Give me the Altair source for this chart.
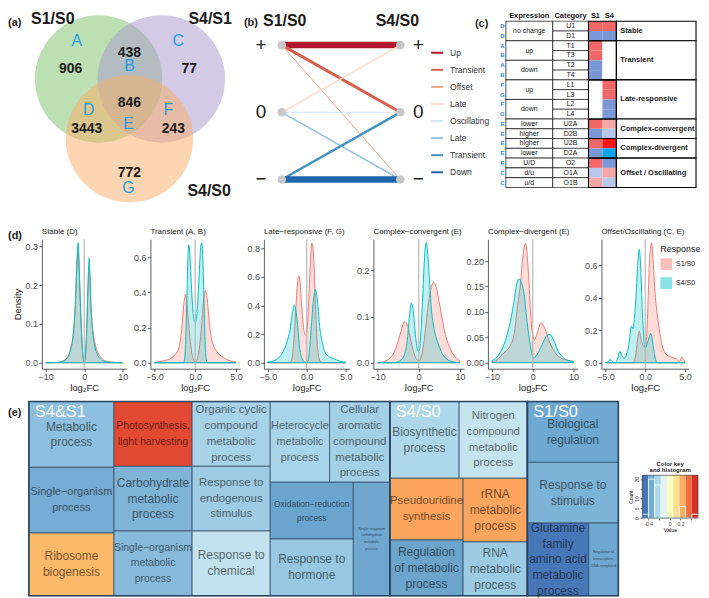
import altair as alt
import pandas as pd

FONT = "Liberation Sans"
INK = "#1a1a1a"

panel_tags = ["(a)", "(b)", "(c)", "(d)", "(e)"]

# ======================= (a) Venn diagram =======================
venn_sets = ["S1/S0", "S4/S1", "S4/S0"]
venn_fill = ["#79c169", "#a797cd", "#f9ad65"]
venn_cx = [91, 154, 122]
venn_cy = [70, 70, 130]
venn_label_x = [45, 203, 202]
venn_label_y = [10, 10, 183]
region_counts = ["906", "438", "77", "846", "3443", "243", "772"]
region_count_x = [63, 122, 182, 122, 79, 166, 122]
region_count_y = [60, 44, 60, 94, 120, 120, 164]
region_letters = ["A", "B", "C", "D", "E", "F", "G"]
region_letter_x = [69, 122, 171, 81, 121, 161, 121]
region_letter_y = [32, 57, 32, 101, 115, 101, 180]

# ======================= (b) response patterns =======================
edge_names = ["Up", "Transient", "Offset", "Late", "Oscillating", "Late", "Transient", "Down"]
edge_from = [1, 1, 1, 0, 0, 0, -1, -1]
edge_to = [1, 0, -1, 1, 0, -1, 0, -1]
edge_colors = ["#b2182b", "#d6604d", "#f4a582", "#fddbc7", "#d1e5f0", "#92c5de", "#4393c3", "#2166ac"]
edge_widths = [6.5, 3, 1, 1.5, 1, 1.5, 2.5, 6.5]
level_symbols = ["+", "0", "\u2212"]
level_values = [1, 0, -1]
legend_y = [0.886, 0.632, 0.378, 0.124, -0.130, -0.384, -0.638, -0.892]

# ======================= (c) category table =======================
tbl_letters = ["D", "D", "A", "B", "A", "B", "F", "G", "F", "G", "E", "E", "E", "E", "E", "C", "C"]
tbl_categories = ["U1", "D1", "T1", "T3", "T2", "T4", "L1", "L3", "L2", "L4",
                  "U2A", "D2B", "U2B", "D2A", "O2", "O1A", "O1B"]
R, B, LR, LB, BR, BB, WH = "#f26767", "#7b98d6", "#f7a6a6", "#b7c8ea", "#ff1414", "#0aa5ec", "#ffffff"
tbl_s1 = [R, B, R, R, B, B, WH, WH, WH, WH, R, B, R, B, R, LB, LR]
tbl_s4 = [R, B, WH, WH, WH, WH, R, R, B, B, LR, LB, BR, BB, B, LR, LB]
expr_labels = ["no change", "up", "down", "up", "down", "lower", "higher", "higher", "lower", "U/D", "d/u", "u/d"]
expr_start = [0, 2, 4, 6, 8, 10, 11, 12, 13, 14, 15, 16]
expr_end = [2, 4, 6, 8, 10, 11, 12, 13, 14, 15, 16, 17]
grp_labels = ["Stable", "Transient", "Late-responsive", "Complex-convergent", "Complex-divergent", "Offset / Oscillating"]
grp_start = [0, 2, 6, 10, 12, 14]
grp_end = [2, 6, 10, 12, 14, 17]
tbl_headers = ["Expression", "Category", "S1", "S4"]
tbl_header_x = [29.5, 71, 96, 110]

# ======================= (d) density curves =======================
dens_titles = ["Stable (D)", "Transient (A, B)", "Late\u2212responsive (F, G)",
               "Complex\u2212convergent (E)", "Complex\u2212divergent (E)", "Offset/Oscillating (C, E)"]
dens_xlim = [10, 5, 5, 10, 10, 5]
dens_xticks = [[-10, -5, 0, 5, 10], [-5, -2.5, 0, 2.5, 5], [-5, -2.5, 0, 2.5, 5],
               [-10, -5, 0, 5, 10], [-10, -5, 0, 5, 10], [-5, -2.5, 0, 2.5, 5]]
dens_xfmt = ["d", ".1f", ".1f", "d", "d", ".1f"]
dens_yticks = [[0, 0.1, 0.2, 0.3], [0, 0.2, 0.4, 0.6], [0, 0.2, 0.4, 0.6, 0.8],
               [0, 0.1, 0.2], [0, 0.05, 0.1, 0.15, 0.2], [0, 0.2, 0.4, 0.6]]
dens_yfmt = [".1f", ".1f", ".1f", ".1f", ".2f", ".1f"]
dens_ymin = [-0.0154, -0.034, -0.042, -0.013, -0.012, -0.037]
dens_ymax = [0.318, 0.702, 0.863, 0.267, 0.243, 0.762]

p1_x = [-10, -7, -5.5, -4.5, -3.5, -2.8, -2.3, -1.9, -1.56, -1.3, -1.0, -0.7, -0.4, -0.15, 0,
        0.15, 0.4, 0.7, 0.95, 1.15, 1.3, 1.5, 1.8, 2.2, 2.8, 3.5, 4.5, 5.5, 7, 10]
p1_s1 = [0, 0.001, 0.005, 0.012, 0.038, 0.078, 0.15, 0.245, 0.29, 0.24, 0.155, 0.08, 0.026, 0.005, 0,
         0.006, 0.03, 0.095, 0.175, 0.228, 0.243, 0.215, 0.14, 0.09, 0.05, 0.028, 0.012, 0.005, 0.002, 0]
p1_s4 = [0, 0.001, 0.004, 0.01, 0.035, 0.075, 0.15, 0.26, 0.309, 0.25, 0.16, 0.08, 0.025, 0.004, 0,
         0.005, 0.03, 0.1, 0.19, 0.25, 0.27, 0.23, 0.14, 0.08, 0.04, 0.02, 0.007, 0.003, 0.001, 0]

p2_s1_x = [-5, -4, -3, -2.5, -2, -1.7, -1.5, -1.3, -1.2, -1.05, -0.85, -0.6, -0.35, -0.15, 0,
           0.15, 0.35, 0.6, 0.85, 1.05, 1.25, 1.4, 1.6, 1.8, 2.1, 2.5, 3, 3.5, 4, 4.5, 5]
p2_s1_y = [0.002, 0.01, 0.025, 0.045, 0.085, 0.17, 0.28, 0.37, 0.39, 0.36, 0.25, 0.12, 0.04, 0.01, 0.003,
           0.01, 0.04, 0.12, 0.25, 0.36, 0.41, 0.39, 0.3, 0.2, 0.12, 0.075, 0.045, 0.028, 0.016, 0.008, 0.004]
p2_s4_x = [-5, -1.45, -1.3, -1.15, -1.0, -0.9, -0.8, -0.7, -0.55, -0.4, -0.25, -0.1, 0, 0.1,
           0.25, 0.4, 0.55, 0.7, 0.8, 0.9, 1.0, 1.1, 1.2, 1.3, 1.4, 1.5, 5]
p2_s4_y = [0, 0, 0.02, 0.15, 0.4, 0.58, 0.67, 0.65, 0.52, 0.38, 0.28, 0.235, 0.23, 0.24,
           0.3, 0.42, 0.56, 0.67, 0.68, 0.63, 0.5, 0.32, 0.15, 0.05, 0.01, 0, 0]

p3_s1_x = [-5, -2.3, -2.0, -1.75, -1.5, -1.3, -1.1, -1.0, -0.85, -0.65, -0.45, -0.25, -0.1,
           0.05, 0.25, 0.45, 0.65, 0.8, 1.0, 1.2, 1.4, 1.6, 1.85, 2.1, 5]
p3_s1_y = [0, 0, 0.01, 0.08, 0.28, 0.47, 0.59, 0.606, 0.56, 0.4, 0.27, 0.2, 0.195,
           0.23, 0.42, 0.68, 0.835, 0.81, 0.6, 0.3, 0.1, 0.03, 0.005, 0, 0]
p3_s4_x = [-5, -4, -3.5, -3, -2.5, -2.15, -1.85, -1.62, -1.4, -1.15, -0.9, -0.6, -0.3, 0,
           0.2, 0.4, 0.6, 0.85, 1.1, 1.35, 1.65, 2.0, 2.3, 2.8, 3.4, 4.2, 5]
p3_s4_y = [0.005, 0.02, 0.04, 0.08, 0.15, 0.23, 0.34, 0.40, 0.37, 0.25, 0.1, 0.03, 0.005, 0,
           0.02, 0.12, 0.26, 0.43, 0.514, 0.45, 0.26, 0.14, 0.08, 0.045, 0.03, 0.012, 0.004]

p4_s1_x = [-10, -9, -8, -7, -6, -5.2, -4.5, -3.8, -3.37, -2.8, -2.2, -1.5, -0.8, 0,
           0.6, 1.2, 1.8, 2.4, 3, 3.6, 4.2, 5, 5.8, 6.7, 7.5, 8.3, 9.1, 10]
p4_s1_y = [0, 0.001, 0.004, 0.01, 0.022, 0.04, 0.062, 0.083, 0.089, 0.082, 0.06, 0.032, 0.012, 0.004,
           0.012, 0.04, 0.085, 0.13, 0.162, 0.174, 0.165, 0.13, 0.09, 0.053, 0.033, 0.019, 0.01, 0.004]
p4_s4_x = [-10, -6, -5, -4.3, -3.5, -3, -2.6, -2.2, -1.8, -1.4, -1.0, -0.6, -0.2, 0.1, 0.5,
           0.9, 1.3, 1.6, 1.85, 2.2, 2.6, 3.05, 3.5, 3.9, 4.5, 5.1, 5.8, 6.7, 7.8, 10]
p4_s4_y = [0, 0, 0.002, 0.006, 0.017, 0.035, 0.065, 0.105, 0.129, 0.118, 0.08, 0.045, 0.025, 0.026, 0.06,
           0.13, 0.21, 0.25, 0.26, 0.235, 0.18, 0.118, 0.085, 0.066, 0.047, 0.032, 0.018, 0.009, 0.003, 0]

p5_s1_x = [-10, -9.1, -8.3, -7.1, -5.85, -4.6, -3.8, -3.0, -2.4, -1.79, -1.4, -1.0, -0.33,
           0.4, 1.2, 2.0, 3.1, 3.9, 5.1, 6.3, 8, 9.6, 10]
p5_s1_y = [0.001, 0.003, 0.009, 0.019, 0.029, 0.055, 0.107, 0.156, 0.21, 0.235, 0.215, 0.17, 0.075,
           0.045, 0.061, 0.078, 0.065, 0.045, 0.025, 0.012, 0.006, 0.003, 0.002]
p5_s4_x = [-10, -9.5, -8.3, -7.1, -5.85, -4.6, -4.0, -3.41, -2.8, -2.2, -1.4, -0.6, 0.24,
           1.06, 2.3, 3.5, 4.15, 5.1, 6.3, 7.6, 9.2, 10]
p5_s4_y = [0.004, 0.006, 0.016, 0.035, 0.068, 0.12, 0.152, 0.165, 0.158, 0.14, 0.081, 0.035, 0.009,
           0.016, 0.035, 0.054, 0.056, 0.045, 0.022, 0.009, 0.003, 0.002]

p6_s1_x = [-5, -1.6, -1.4, -1.15, -0.95, -0.75, -0.55, -0.3, 0, 0.2, 0.4, 0.6, 0.8,
           1.0, 1.25, 1.5, 1.75, 2.1, 2.5, 3.0, 3.5, 4.0, 4.3, 4.6, 4.8, 5]
p6_s1_y = [0, 0, 0.01, 0.06, 0.15, 0.195, 0.15, 0.11, 0.1, 0.18, 0.45, 0.68, 0.74,
           0.62, 0.42, 0.3, 0.21, 0.11, 0.06, 0.04, 0.032, 0.02, 0.008, 0.035, 0.02, 0]
p6_s4_x = [-5, -4.7, -4.4, -4.1, -3.7, -3.4, -3.2, -2.95, -2.6, -2.3, -2.0, -1.75, -1.55, -1.35,
           -1.15, -0.95, -0.75, -0.6, -0.35, -0.15, 0, 0.2, 0.45, 0.7, 0.9, 1.1, 1.3, 1.5, 5]
p6_s4_y = [0, 0.005, 0.02, 0.005, 0, 0.04, 0.07, 0.045, 0.027, 0.06, 0.13, 0.225, 0.21, 0.28,
           0.42, 0.6, 0.70, 0.62, 0.3, 0.14, 0.09, 0.11, 0.15, 0.18, 0.14, 0.07, 0.02, 0, 0]

dens_series = [
    ((p1_x, p1_s1), (p1_x, p1_s4)),
    ((p2_s1_x, p2_s1_y), (p2_s4_x, p2_s4_y)),
    ((p3_s1_x, p3_s1_y), (p3_s4_x, p3_s4_y)),
    ((p4_s1_x, p4_s1_y), (p4_s4_x, p4_s4_y)),
    ((p5_s1_x, p5_s1_y), (p5_s4_x, p5_s4_y)),
    ((p6_s1_x, p6_s1_y), (p6_s4_x, p6_s4_y)),
]
responses = ["S1/S0", "S4/S0"]
response_colors = ["#F8766D", "#00BFC4"]

# ======================= (e) treemap =======================
tm_labels = ["Metabolic\nprocess", "Single\u2212organism\nprocess", "Ribosome\nbiogenesis",
             "Photosynthesis,\nlight harvesting", "Carbohydrate\nmetabolic\nprocess",
             "Single\u2212organism\nmetabolic\nprocess", "Organic cyclic\ncompound\nmetabolic\nprocess",
             "Response to\nendogenous\nstimulus", "Response to\nchemical", "Heterocycle\nmetabolic\nprocess",
             "Cellular\naromatic\ncompound\nmetabolic\nprocess", "Oxidation\u2212reduction\nprocess",
             "Response to\nhormone", "Single\u2212organism\ncarbohydrate\nmetabolic\nprocess",
             "Biosynthetic\nprocess", "Nitrogen\ncompound\nmetabolic\nprocess", "Pseudouridine\nsynthesis",
             "rRNA\nmetabolic\nprocess", "Regulation\nof metabolic\nprocess", "RNA\nmetabolic\nprocess",
             "Biological\nregulation", "Response to\nstimulus",
             "Glutamine\nfamily\namino acid\nmetabolic\nprocess", "Regulation of\ntranscription,\nDNA\u2212templated"]
tm_x0 = [0, 0, 0, 86, 86, 86, 165, 165, 165, 244, 304, 244, 244, 328,
         365, 435, 365, 439, 365, 439, 504, 504, 504, 566]
tm_x1 = [86, 86, 86, 165, 165, 165, 244, 244, 244, 304, 365, 328, 328, 365,
         435, 504, 439, 504, 439, 504, 596, 596, 566, 596]
tm_y0 = [0, 66, 132, 0, 65, 130, 0, 65, 130, 0, 0, 81, 138, 81,
         0, 0, 77, 77, 139, 141, 0, 61, 122, 122]
tm_y1 = [66, 132, 195, 65, 130, 195, 65, 130, 195, 81, 81, 138, 195, 195,
         77, 77, 139, 141, 195, 195, 61, 122, 195, 195]
tm_colors = ["#8dc0de", "#76acd3", "#fdb96a", "#e34a33", "#7fb4d7", "#88bbdb", "#a8d2e8", "#9fcbe4",
             "#c3e2ef", "#a9d4e9", "#a3d0e6", "#6ba4cd", "#97c7e1", "#6fa7cf", "#aed7ea", "#c6e4f0",
             "#fca55e", "#fca55e", "#6ca4cc", "#9ecbe4", "#6fa8d0", "#7db3d6", "#4777b6", "#6ea7cf"]
tm_fontsize = [12, 11, 12, 10.5, 12, 10.5, 11.5, 11.5, 12, 11, 11.5, 8.5, 12, 3.6,
               12, 11.5, 11.5, 12, 12, 12, 12, 12, 12, 3.6]
tm_tier = ["L", "L", "L", "L", "L", "L", "L", "L", "L", "L", "L", "M", "L", "S",
           "L", "L", "L", "L", "L", "L", "L", "L", "L", "S"]
tier_lineheight = {"L": 15.8, "M": 14, "S": 7}
tm_groups = ["S4&S1", "S4/S0", "S1/S0"]
tm_group_x0 = [0, 365, 504]
tm_group_x1 = [365, 504, 596]

key_edges = [-0.51, -0.395, -0.28, -0.165, -0.05, 0.065, 0.18, 0.295, 0.41, 0.525]
key_colors = ["#4575b4", "#74add1", "#abd9e9", "#e0f3f8", "#ffffbf", "#fee090", "#fdae61", "#f46d43", "#d73027"]
key_counts = [2, 20, 17, 2, 0, 0, 6, 0, 2]
key_title = "Color key\nand histogram"

# ======================= layout sizes =======================
W_A, W_B, W_C, H_TOP = 232, 262, 199, 215
DENS_W = [85, 90, 86, 91, 90, 88]
DENS_H = 130
TM_W, TM_H = 592, 195
KEY_W, KEY_H = 56, 117


def q(field, scale, ch):
    if ch == "x":
        return alt.X(field, type="quantitative", scale=scale, axis=None)
    return alt.Y(field, type="quantitative", scale=scale, axis=None)


# ---------------- (a)
xa = alt.Scale(domain=[0, W_A], nice=False, zero=False)
ya = alt.Scale(domain=[0, H_TOP], nice=False, zero=False, reverse=True)
venn_df = pd.DataFrame({"set": venn_sets, "fill": venn_fill, "cx": venn_cx, "cy": venn_cy,
                        "lx": venn_label_x, "ly": venn_label_y})
count_df = pd.DataFrame({"t": region_counts, "x": region_count_x, "y": region_count_y})
letter_df = pd.DataFrame({"t": region_letters, "x": region_letter_x, "y": region_letter_y})
tag_a = pd.DataFrame({"t": [panel_tags[0]], "x": [0], "y": [14]})

venn = alt.layer(
    alt.Chart(venn_df).mark_circle(size=16384, opacity=0.5).encode(
        x=q("cx", xa, "x"), y=q("cy", ya, "y"), color=alt.Color("fill:N", scale=None)),
    alt.Chart(venn_df).mark_text(font=FONT, fontSize=16, fontWeight="bold", color=INK).encode(
        x=q("lx", xa, "x"), y=q("ly", ya, "y"), text="set:N"),
    alt.Chart(count_df).mark_text(font=FONT, fontSize=14, fontWeight="bold", color=INK).encode(
        x=q("x", xa, "x"), y=q("y", ya, "y"), text="t:N"),
    alt.Chart(letter_df).mark_text(font=FONT, fontSize=16, color="#1f9ce0").encode(
        x=q("x", xa, "x"), y=q("y", ya, "y"), text="t:N"),
    alt.Chart(tag_a).mark_text(font=FONT, fontSize=11, fontWeight="bold", align="left", color=INK).encode(
        x=q("x", xa, "x"), y=q("y", ya, "y"), text="t:N"),
).properties(width=W_A, height=H_TOP)

# ---------------- (b)
xb = alt.Scale(domain=[-0.361, 1.840], nice=False, zero=False)
yb = alt.Scale(domain=[-1.652, 1.533], nice=False, zero=False)
edges_df = pd.DataFrame({"name": edge_names, "y0": edge_from, "y1": edge_to,
                         "color": edge_colors, "w": edge_widths})
edges_df["x0"] = 0
edges_df["x1"] = 1
nodes_df = pd.DataFrame({"x": [0] * 3 + [1] * 3, "y": level_values * 2})
sym_df = pd.DataFrame({"t": level_symbols * 2, "x": [-0.176] * 3 + [1.151] * 3, "y": level_values * 2})
head_df = pd.DataFrame({"t": ["S1/S0", "S4/S0"], "x": [0.025, 0.975], "y": [1.356, 1.356]})
leg_df = pd.DataFrame({"name": edge_names, "color": edge_colors, "y": legend_y})
leg_df["x0"] = 1.26
leg_df["x1"] = 1.361
leg_df["lx"] = 1.42
tag_b = pd.DataFrame({"t": [panel_tags[1]], "x": [-0.319], "y": [1.326]})

lines = alt.layer(
    alt.Chart(edges_df).mark_rule().encode(
        x=q("x0", xb, "x"), x2=alt.X2("x1"), y=q("y0", yb, "y"), y2=alt.Y2("y1"),
        color=alt.Color("color:N", scale=None), strokeWidth=alt.StrokeWidth("w:Q", scale=None)),
    alt.Chart(nodes_df).mark_circle(size=75, color="#c8c8c8", opacity=1).encode(
        x=q("x", xb, "x"), y=q("y", yb, "y")),
    alt.Chart(sym_df).mark_text(font=FONT, fontSize=19, color="#222222").encode(
        x=q("x", xb, "x"), y=q("y", yb, "y"), text="t:N"),
    alt.Chart(head_df).mark_text(font=FONT, fontSize=16, fontWeight="bold", color=INK).encode(
        x=q("x", xb, "x"), y=q("y", yb, "y"), text="t:N"),
    alt.Chart(leg_df).mark_rule(strokeWidth=2).encode(
        x=q("x0", xb, "x"), x2=alt.X2("x1"), y=q("y", yb, "y"), color=alt.Color("color:N", scale=None)),
    alt.Chart(leg_df).mark_text(font=FONT, fontSize=8.5, align="left", color="#333333").encode(
        x=q("lx", xb, "x"), y=q("y", yb, "y"), text="name:N"),
    alt.Chart(tag_b).mark_text(font=FONT, fontSize=11, fontWeight="bold", align="left", color=INK).encode(
        x=q("x", xb, "x"), y=q("y", yb, "y"), text="t:N"),
).properties(width=W_B, height=H_TOP)

# ---------------- (c)
xc = alt.Scale(domain=[0, W_C], nice=False, zero=False)
yc = alt.Scale(domain=[-1.222, 20.67], nice=False, zero=False, reverse=True)
nrow = len(tbl_categories)
cell_df = pd.DataFrame({"r0": list(range(nrow)), "r1": [r + 1 for r in range(nrow)],
                        "rm": [r + 0.5 for r in range(nrow)], "letter": tbl_letters,
                        "cat": tbl_categories, "s1": tbl_s1, "s4": tbl_s4})
expr_df = pd.DataFrame({"t": expr_labels, "r0": expr_start, "r1": expr_end})
expr_df["rm"] = (expr_df["r0"] + expr_df["r1"]) / 2
grp_df = pd.DataFrame({"t": grp_labels, "r0": grp_start, "r1": grp_end})
grp_df["rm"] = (grp_df["r0"] + grp_df["r1"]) / 2
hdr_df = pd.DataFrame({"t": tbl_headers, "x": tbl_header_x})
tag_c = pd.DataFrame({"t": [panel_tags[2]]})


def cx(v):
    return alt.XDatum(v, scale=xc, axis=None)


def ry(f):
    return alt.Y(f, type="quantitative", scale=yc, axis=None)


table = alt.layer(
    alt.Chart(cell_df).mark_rect().encode(x=cx(89), x2=alt.X2Datum(103), y=ry("r0"), y2=alt.Y2("r1"),
                                          fill=alt.Fill("s1:N", scale=None)),
    alt.Chart(cell_df).mark_rect().encode(x=cx(103), x2=alt.X2Datum(117), y=ry("r0"), y2=alt.Y2("r1"),
                                          fill=alt.Fill("s4:N", scale=None)),
    alt.Chart(cell_df).mark_rect(fill="white", stroke="black", strokeWidth=0.6).encode(
        x=cx(53), x2=alt.X2Datum(89), y=ry("r0"), y2=alt.Y2("r1")),
    alt.Chart(cell_df).mark_text(font=FONT, fontSize=7, color="#222222").encode(
        x=cx(71), y=ry("rm"), text="cat:N"),
    alt.Chart(cell_df).mark_text(font=FONT, fontSize=6, fontWeight="bold", color="#2a8fd8").encode(
        x=cx(2.5), y=ry("rm"), text="letter:N"),
    alt.Chart(expr_df).mark_rect(fill="white", stroke="black", strokeWidth=0.7).encode(
        x=cx(6), x2=alt.X2Datum(53), y=ry("r0"), y2=alt.Y2("r1")),
    alt.Chart(expr_df).mark_text(font=FONT, fontSize=7, color="#222222").encode(
        x=cx(29.5), y=ry("rm"), text="t:N"),
    alt.Chart(grp_df).mark_rect(fill="white", stroke="black", strokeWidth=1.1).encode(
        x=cx(117), x2=alt.X2Datum(197), y=ry("r0"), y2=alt.Y2("r1")),
    alt.Chart(grp_df).mark_rect(fillOpacity=0, stroke="black", strokeWidth=1.1).encode(
        x=cx(89), x2=alt.X2Datum(117), y=ry("r0"), y2=alt.Y2("r1")),
    alt.Chart(grp_df).mark_text(font=FONT, fontSize=7.5, fontWeight="bold", align="left", color=INK).encode(
        x=cx(121), y=ry("rm"), text="t:N"),
    alt.Chart(hdr_df).mark_text(font=FONT, fontSize=7.5, fontWeight="bold", color=INK).encode(
        x=alt.X("x:Q", scale=xc, axis=None), y=alt.YDatum(-0.55, scale=yc, axis=None), text="t:N"),
    alt.Chart(tag_c).mark_text(font=FONT, fontSize=11, fontWeight="bold", align="left", color=INK).encode(
        x=cx(-25), y=alt.YDatum(0.3, scale=yc, axis=None), text="t:N"),
).properties(width=W_C, height=H_TOP)

row1 = alt.hconcat(venn, lines, table, spacing=0, bounds="flush")

# ---------------- (d)
resp_scale = alt.Scale(domain=responses, range=response_colors)


def axis_kw(**extra):
    base = dict(grid=False, domainColor="#333333", tickColor="#333333", labelColor="#4d4d4d",
                labelFontSize=9, tickSize=3, labelPadding=1.5, titleFontSize=9.5,
                titleFontWeight="normal", titleColor=INK, labelFont=FONT, titleFont=FONT,
                labelFlush=False, labelOverlap=False, domainWidth=0.8, tickWidth=0.8)
    base.update(extra)
    return alt.Axis(**base)


def density_panel(i):
    lim = dens_xlim[i]
    sx = alt.Scale(domain=[-1.1 * lim, 1.1 * lim], nice=False, zero=False)
    sy = alt.Scale(domain=[dens_ymin[i], dens_ymax[i]], nice=False, zero=False)
    recs = []
    for resp, (xs, ys) in zip(responses, dens_series[i]):
        for xv, yv in zip(xs, ys):
            recs.append({"Response": resp, "x": xv, "y": yv})
    df = pd.DataFrame(recs)
    if i == 5:
        leg = alt.Legend(title="Response", orient="none", legendX=59, legendY=6, symbolType="square",
                         symbolSize=110, symbolStrokeWidth=1.2, symbolOpacity=0.45, titleFontSize=9,
                         titleFontWeight="normal", labelFontSize=7, titleFont=FONT, labelFont=FONT,
                         rowPadding=3, titlePadding=4, titleColor=INK, labelColor=INK)
    else:
        leg = None
    area = alt.Chart(df).mark_area(fillOpacity=0.25, strokeWidth=1, interpolate="monotone", clip=True).encode(
        x=alt.X("x:Q", scale=sx, axis=axis_kw(values=dens_xticks[i], format=dens_xfmt[i], title="log\u2082FC",
                                             titlePadding=1, labelPadding=0.5)),
        y=alt.Y("y:Q", scale=sy, axis=axis_kw(values=dens_yticks[i], format=dens_yfmt[i],
                                             title="Density" if i == 0 else None, titlePadding=2)),
        y2=alt.datum(0),
        fill=alt.Fill("Response:N", scale=resp_scale, legend=leg),
        stroke=alt.Stroke("Response:N", scale=resp_scale, legend=leg),
    )
    zero = alt.Chart(pd.DataFrame({"z": [0]})).mark_rule(color="#b8b8b8", strokeWidth=1.2).encode(
        x=alt.X("z:Q", scale=sx))
    return alt.layer(area, zero).properties(
        width=DENS_W[i], height=DENS_H,
        title=alt.TitleParams(dens_titles[i], anchor="start", frame="group", fontSize=8, fontWeight="normal",
                              font=FONT, color=INK, offset=3))


spacer_d = alt.Chart(pd.DataFrame({"t": [panel_tags[3]]})).mark_text(
    font=FONT, fontSize=11, fontWeight="bold", align="left", baseline="middle", color=INK).encode(
    text="t:N", x=alt.value(0), y=alt.value(-3)).properties(width=10, height=DENS_H)

row2 = alt.hconcat(spacer_d, *[density_panel(i) for i in range(6)], spacing=24, bounds="flush").resolve_scale(
    fill="independent", stroke="independent").resolve_legend(fill="independent", stroke="independent")

# ---------------- (e)
xt = alt.Scale(domain=[0, 596], nice=False, zero=False)
yt = alt.Scale(domain=[0, 195], nice=False, zero=False, reverse=True)
tm_df = pd.DataFrame({"label": tm_labels, "x0": tm_x0, "x1": tm_x1, "y0": tm_y0, "y1": tm_y1,
                      "color": tm_colors, "fs": tm_fontsize, "tier": tm_tier})
tm_df["xm"] = (tm_df["x0"] + tm_df["x1"]) / 2
# Vega anchors the first line of a multi-line label: shift up so the block is centred in its cell
tm_df["nl"] = tm_df["label"].str.count("\n")
tm_df["lh"] = tm_df["tier"].map(tier_lineheight)
tm_df["ym"] = (tm_df["y0"] + tm_df["y1"]) / 2 - tm_df["nl"] * tm_df["lh"] / 2 * (195.0 / TM_H)
grp_tm = pd.DataFrame({"t": tm_groups, "x0": tm_group_x0, "x1": tm_group_x1})
grp_tm["y0"] = 0
grp_tm["y1"] = 195
grp_tm["lx"] = grp_tm["x0"] + 6
grp_tm["ly"] = 2

tm_layers = [
    alt.Chart(tm_df).mark_rect(stroke="#34506b", strokeWidth=0.8).encode(
        x=q("x0", xt, "x"), x2=alt.X2("x1"), y=q("y0", yt, "y"), y2=alt.Y2("y1"),
        fill=alt.Fill("color:N", scale=None)),
    alt.Chart(grp_tm).mark_rect(fillOpacity=0, stroke="#2b4560", strokeWidth=1.6).encode(
        x=q("x0", xt, "x"), x2=alt.X2("x1"), y=q("y0", yt, "y"), y2=alt.Y2("y1")),
]
for tier, lh in tier_lineheight.items():
    sub = tm_df[tm_df["tier"] == tier]
    tm_layers.append(
        alt.Chart(sub).mark_text(font=FONT, lineBreak="\n", lineHeight=lh, color="black", opacity=0.55,
                                 baseline="middle").encode(
            x=q("xm", xt, "x"), y=q("ym", yt, "y"), text="label:N", size=alt.Size("fs:Q", scale=None)))
tm_layers.append(
    alt.Chart(grp_tm).mark_text(font=FONT, fontSize=16.5, color="white", align="left", baseline="top").encode(
        x=q("lx", xt, "x"), y=q("ly", yt, "y"), text="t:N"))
treemap = alt.layer(*tm_layers).properties(width=TM_W, height=TM_H)

spacer_e = alt.Chart(pd.DataFrame({"t": [panel_tags[4]]})).mark_text(
    font=FONT, fontSize=11, fontWeight="bold", align="left", baseline="middle", color=INK).encode(
    text="t:N", x=alt.value(0), y=alt.value(11)).properties(width=21, height=TM_H)
gap_e = alt.Chart(pd.DataFrame({"t": [""]})).mark_text().encode(
    text="t:N", x=alt.value(0), y=alt.value(0)).properties(width=24, height=10)

# colour key (bottom 43 px of its view hold the 0..22 count range)
key_df = pd.DataFrame({"b0": key_edges[:-1], "b1": key_edges[1:], "color": key_colors, "count": key_counts})
key_top = 22 * KEY_H / 43.0
xk = alt.Scale(domain=[key_edges[0], key_edges[-1]], nice=False, zero=False)
yk = alt.Scale(domain=[0, key_top], nice=False, zero=False)
key_xaxis = alt.Axis(values=[-0.4, -0.2, 0, 0.2, 0.4], title="Value", labelFontSize=5, titleFontSize=5.5,
                     labelExpr="datum.value == -0.4 ? '-0.4' : datum.value == 0 ? '0' : datum.value == 0.2 ? '0.2' : ''",
                     tickSize=2, labelPadding=1, titlePadding=1, grid=False, domain=False,
                     tickColor="#222222", labelColor="#333333", titleFontWeight="normal", labelFont=FONT,
                     titleFont=FONT, labelFlush=False, tickWidth=0.6)
key_yaxis = alt.Axis(values=[0, 5, 10, 15, 20], title="Count", labelFontSize=5, titleFontSize=5,
                     labelExpr="datum.value == 15 ? '' : datum.label", labelAngle=270,
                     tickSize=2, labelPadding=1, titlePadding=1, grid=False, domain=False,
                     tickColor="#222222", labelColor="#333333", titleFontWeight="normal", labelFont=FONT,
                     titleFont=FONT, tickWidth=0.6, titleY=KEY_H - 21.5)
frame_df = pd.DataFrame({"a": [key_edges[0]], "b": [key_edges[-1]]})
key = alt.layer(
    alt.Chart(key_df).mark_rect().encode(
        x=alt.X("b0:Q", scale=xk, axis=key_xaxis), x2=alt.X2("b1"),
        y=alt.YDatum(0, scale=yk, axis=key_yaxis), y2=alt.Y2Datum(22),
        fill=alt.Fill("color:N", scale=None)),
    alt.Chart(key_df).mark_rect(fillOpacity=0, stroke="#e6fbfb", strokeWidth=0.9).encode(
        x=alt.X("b0:Q", scale=xk, axis=key_xaxis), x2=alt.X2("b1"),
        y=alt.Y("count:Q", scale=yk, axis=key_yaxis), y2=alt.Y2Datum(0)),
    alt.Chart(frame_df).mark_rect(fillOpacity=0, stroke="#222222", strokeWidth=0.6).encode(
        x=alt.X("a:Q", scale=xk, axis=key_xaxis), x2=alt.X2("b"),
        y=alt.YDatum(0, scale=yk, axis=key_yaxis), y2=alt.Y2Datum(22)),
    alt.Chart(pd.DataFrame({"t": [key_title]})).mark_text(
        font=FONT, fontSize=6, fontWeight="bold", color=INK, lineBreak="\n", lineHeight=6.5,
        baseline="bottom").encode(
        x=alt.XDatum(0.0075, scale=xk, axis=key_xaxis), y=alt.YDatum(26.4, scale=yk, axis=key_yaxis),
        text="t:N"),
).properties(width=KEY_W, height=KEY_H)

row3 = alt.hconcat(spacer_e, treemap, gap_e, key, spacing=0, bounds="flush")

chart = alt.vconcat(row1, row2, row3, spacing=4).properties(padding=0).configure(
    font=FONT, view=alt.ViewConfig(stroke=None))

chart.save("out.html", embed_options={"renderer": "svg", "actions": False})
